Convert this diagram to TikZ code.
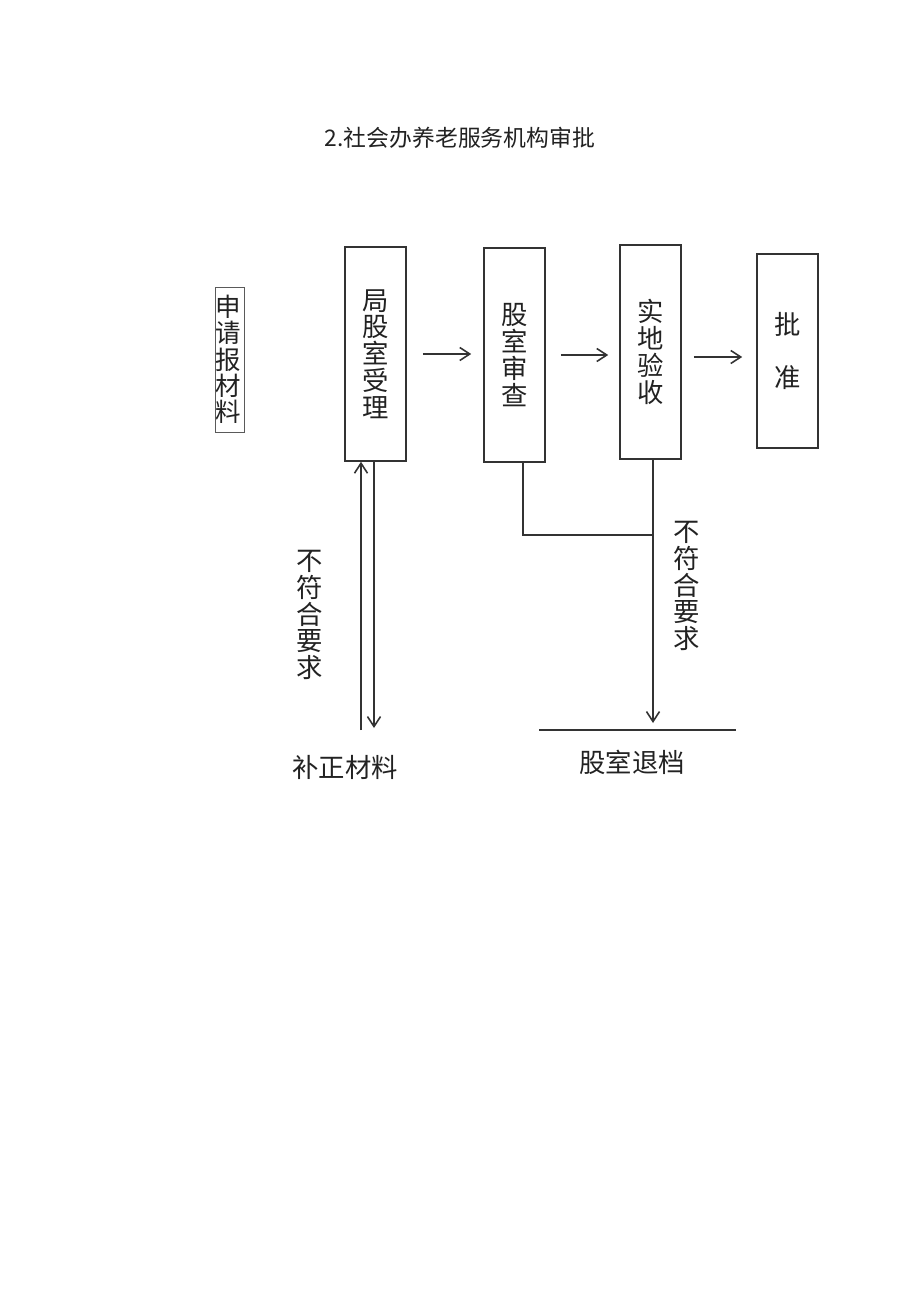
\documentclass[tikz,border=0pt]{standalone}
\usepackage{fontspec}
\setmainfont{Noto Sans CJK SC}
\usetikzlibrary{arrows.meta,positioning}
\definecolor{linegray}{HTML}{333333}
\definecolor{textgray}{HTML}{222222}
\definecolor{framegray}{HTML}{5A5A5A}
\tikzset{
  stepbox/.style={
    draw=linegray,
    line width=0.9pt,
    align=center,
    inner sep=0pt,
    minimum width=1.22cm,
    minimum height=4.28cm,
    text=textgray,
    font=\fontsize{15pt}{15.3pt}\selectfont
  },
  inputbox/.style={
    draw=framegray,
    line width=0.5pt,
    align=left,
    inner sep=0pt,
    text width=0.58cm,
    minimum height=2.9cm,
    text=textgray,
    font=\fontsize{14.5pt}{15pt}\selectfont
  },
  vlabel/.style={
    align=center,
    inner sep=0pt,
    text=textgray,
    font=\fontsize{15pt}{15.3pt}\selectfont
  },
  endlabel/.style={
    inner sep=0pt,
    text=textgray,
    font=\fontsize{15pt}{18pt}\selectfont
  },
  flowarrow/.style={
    -{Straight Barb[length=2mm,width=2.6mm]},
    line width=0.9pt,
    draw=linegray
  },
  link/.style={
    line width=0.9pt,
    draw=linegray
  }
}
\begin{document}
\begin{tikzpicture}[x=0.02cm,y=-0.02cm]
  \useasboundingbox[fill=white] (0,0) rectangle (920,1301);
  \node[text=textgray, font=\fontsize{13pt}{16pt}\selectfont] (title) at (460,138) {2.社会办养老服务机构审批};
  % main row
  \node[inputbox] (apply) at (229.5,359.5) {申\\请\\报\\材\\料};
  \node[stepbox] (accept) at (375.5,354) {局\\股\\室\\受\\理};
  \node[stepbox] (review) at (514.5,355) {股\\室\\审\\查};
  \node[stepbox] (inspect) at (650.5,352) {实\\地\\验\\收};
  \node[stepbox, minimum height=3.88cm] (approve) at (787.5,351) {批\\[15pt]准};
  \draw[flowarrow, shorten <=0.32cm, shorten >=0.24cm] (accept.east) -- (accept.east -| review.west);
  \draw[flowarrow, shorten <=0.3cm, shorten >=0.22cm] (review.east) -- (review.east -| inspect.west);
  \draw[flowarrow, shorten <=0.24cm, shorten >=0.28cm] ([yshift=-0.1cm]inspect.east) -- ([yshift=-0.1cm]inspect.east -| approve.west);
  % supplement loop
  \coordinate (fix-up) at (361,730);
  \coordinate (fix-dn) at (374,728);
  \draw[flowarrow] (fix-up) -- (fix-up |- accept.south);
  \draw[flowarrow] (accept.south -| fix-dn) -- (fix-dn);
  \node[vlabel] (reject-l) at (310,615) {不\\符\\合\\要\\求};
  \node[endlabel] (fix) at (345,767) {补正材料};
  % return branch
  \coordinate (merge) at (653,535);
  \coordinate (back) at (653,723);
  \coordinate (bar-l) at (539,730);
  \coordinate (bar-r) at (736,730);
  \draw[link] ([xshift=0.17cm]review.south) |- (merge);
  \draw[flowarrow] (inspect.south -| back) -- (back);
  \draw[link] (bar-l) -- (bar-r);
  \node[vlabel] (reject-r) at (687,586) {不\\符\\合\\要\\求};
  \node[endlabel] (returned) at (632,762) {股室退档};
\end{tikzpicture}
\end{document}
